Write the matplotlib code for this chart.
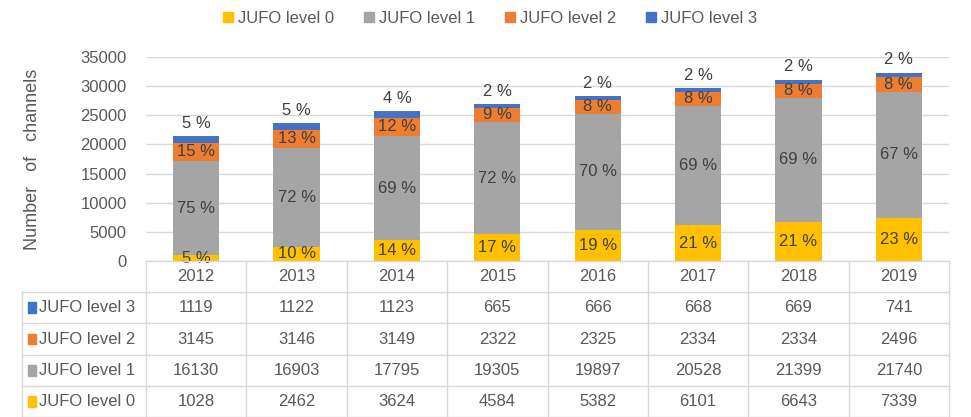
import matplotlib.pyplot as plt
from matplotlib.patches import Patch, Rectangle

plt.rcParams['font.family'] = ['Liberation Sans', 'DejaVu Sans']

years = ['2012', '2013', '2014', '2015', '2016', '2017', '2018', '2019']
level0 = [1028, 2462, 3624, 4584, 5382, 6101, 6643, 7339]
level1 = [16130, 16903, 17795, 19305, 19897, 20528, 21399, 21740]
level2 = [3145, 3146, 3149, 2322, 2325, 2334, 2334, 2496]
level3 = [1119, 1122, 1123, 665, 666, 668, 669, 741]
series_names = ['JUFO level 0', 'JUFO level 1', 'JUFO level 2', 'JUFO level 3']
colors = ['#FFC000', '#A5A5A5', '#ED7D31', '#4472C4']

series = [level0, level1, level2, level3]
totals = [sum(v) for v in zip(*series)]
text_col = '#595959'
grid_col = '#D9D9D9'

fig = plt.figure(figsize=(9.71, 4.17), dpi=100)
ax = fig.add_axes([146/971, 156/417, 803/971, 204/417])

x = list(range(len(years)))
bottom = [0] * len(years)
for vals, col in zip(series, colors):
    ax.bar(x, vals, bottom=bottom, width=0.46, color=col, zorder=3)
    bottom = [b + v for b, v in zip(bottom, vals)]

# percentage labels
bottom = [0] * len(years)
for k, vals in enumerate(series):
    for i, v in enumerate(vals):
        pct = round(v / totals[i] * 100)
        if k == 3:
            ax.annotate(f'{pct} %', (i, totals[i]), xytext=(0, 4), textcoords='offset points',
                        ha='center', va='bottom', fontsize=12, color='#404040', zorder=4)
        else:
            ax.text(i, bottom[i] + v / 2, f'{pct} %', ha='center', va='center',
                    fontsize=12, color='#404040', zorder=4)
    bottom = [b + v for b, v in zip(bottom, vals)]

ax.set_xlim(-0.5, len(years) - 0.5)
ax.set_ylim(0, 35000)
ax.set_yticks(range(0, 35001, 5000))
ax.set_xticks([])
ax.tick_params(axis='y', length=0, labelsize=12, labelcolor=text_col, pad=14)
ax.grid(axis='y', color=grid_col, lw=1, zorder=0)
for s in ax.spines.values():
    s.set_visible(False)
ax.set_ylabel('Number   of   channels', fontsize=13, color=text_col, labelpad=28)

# data table
left = -0.5 - 124 / 100.375
tax = fig.add_axes([22/971, 0, 927/971, 156/417])
tax.set_xlim(left, len(years) - 0.5)
tax.set_ylim(0, 5)
tax.axis('off')

for j in range(len(years) + 1):
    tax.plot([j - 0.5, j - 0.5], [0, 5], color=grid_col, lw=1, clip_on=False)
tax.plot([left, left], [0, 4], color=grid_col, lw=1, clip_on=False)
tax.plot([-0.5, len(years) - 0.5], [5, 5], color=grid_col, lw=1, clip_on=False)
for r in range(0, 5):
    tax.plot([left, len(years) - 0.5], [r, r], color=grid_col, lw=1, clip_on=False)

for i, yr in enumerate(years):
    tax.text(i, 4.5, yr, ha='center', va='center', fontsize=12, color=text_col)

for k in range(4):
    row_y = k + 0.5
    for i, v in enumerate(series[k]):
        tax.text(i, row_y, str(v), ha='center', va='center', fontsize=12, color=text_col)
    tax.add_patch(Rectangle((left + 0.06, row_y - 0.17), 0.08, 0.34, color=colors[k], clip_on=False))
    tax.text(left + 0.17, row_y, series_names[k], ha='left', va='center', fontsize=12, color=text_col)

handles = [Patch(color=c, label=n) for c, n in zip(colors, series_names)]
fig.legend(handles=handles, loc='upper center', bbox_to_anchor=(490/971, 1.01), ncol=4,
           frameon=False, fontsize=12, handlelength=0.6, handleheight=0.6,
           handletextpad=0.3, columnspacing=1.8, labelcolor=text_col)

fig.savefig('out.png', dpi=100)
